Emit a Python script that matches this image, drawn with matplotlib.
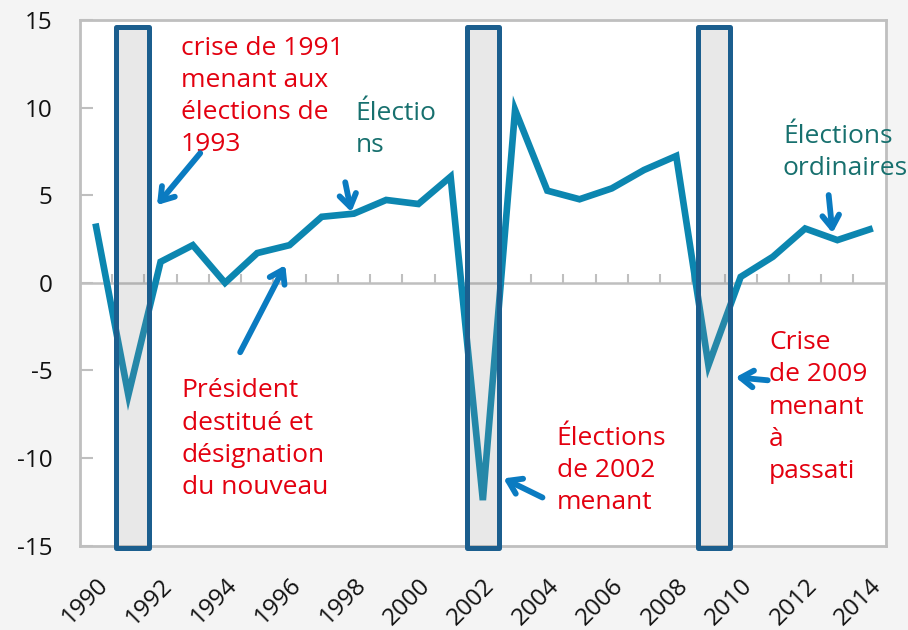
import matplotlib
matplotlib.use("Agg")
import matplotlib.pyplot as plt
from matplotlib.patches import Rectangle

plt.rcParams['font.family'] = ['Open Sans', 'DejaVu Sans']

years = list(range(1990, 2015))
growth = [3.2, -6.4, 1.2, 2.15, 0.0, 1.7, 2.15, 3.77, 3.95, 4.73, 4.5, 6.06,
          -12.4, 9.87, 5.26, 4.77, 5.39, 6.44, 7.24, -4.7, 0.34, 1.49, 3.1, 2.44, 3.05]
tick_labels = [str(y) for y in years]
crisis_years = [1991.13, 2002.0, 2009.17]

annotations = [
    ("crise de 1991\nmenant aux\nélections de\n1993", 1992.62, 14.1, '#E3000F'),
    ("Président\ndestitué et\ndésignation\ndu nouveau", 1992.65, -5.45, '#E3000F'),
    ("Électio\nns", 1998.05, 10.4, '#17706E'),
    ("Élections\nde 2002\nmenant", 2004.29, -8.15, '#E3000F'),
    ("Crise\nde 2009\nmenant\nà\npassati", 2010.88, -2.7, '#E3000F'),
    ("Élections\nordinaires", 2011.31, 9.05, '#17706E'),
]
arrows = [
    ((1993.23, 7.4), (1991.89, 4.44)),
    ((1994.47, -3.96), (1995.87, 1.01)),
    ((1997.73, 5.74), (1997.92, 4.04)),
    ((2003.85, -12.25), (2002.64, -11.16)),
    ((2010.84, -5.56), (2009.84, -5.39)),
    ((2012.73, 5.01), (2012.85, 2.84)),
]

fig = plt.figure(figsize=(9.08, 6.30), dpi=100, facecolor='#F4F4F4')
ax = fig.add_axes([80/908, 1-545.7/630, (885.7-80)/908, (545.7-20)/630])
ax.set_facecolor('white')

ax.plot(years, growth, color='#0C86B0', lw=4.8, solid_joinstyle='miter', zorder=3)

for c in crisis_years:
    r = Rectangle((c-0.5, -15.14), 1.0, 29.74, facecolor=(0.55, 0.55, 0.55, 0.2),
                  edgecolor='#1B5E8E', lw=3.6, joinstyle='round', clip_on=False, zorder=4)
    ax.add_patch(r)

ax.axhline(0, color='#BFBFBF', lw=1.8, zorder=1)
ax.vlines([y + 0.5 for y in years[:-1]], 0, 0.5, color='#BFBFBF', lw=1.5, zorder=1)

ax.set_xlim(1989.5, 2014.5)
ax.set_ylim(-15, 15)
ax.set_yticks(range(-15, 16, 5))
ax.set_yticklabels([str(v) for v in range(-15, 16, 5)])
ax.tick_params(axis='y', direction='in', length=9, width=1.5, color='#BFBFBF',
               labelsize=17.5, pad=20, labelcolor='#111111')
ax.set_xticks(years[::2])
ax.set_xticklabels(tick_labels[::2], rotation=45, ha='right', va='top',
                   rotation_mode='anchor', fontsize=17.5, color='#111111')
ax.tick_params(axis='x', length=0, pad=20)
for s in ax.spines.values():
    s.set_color('#BFBFBF')
    s.set_linewidth(2)

for txt, x, y, col in annotations:
    ax.text(x, y, txt, color=col, fontsize=19, ha='left', va='top',
            linespacing=1.38, zorder=6)

for (xt, yt), (xh, yh) in arrows:
    ax.annotate('', xy=(xh, yh), xytext=(xt, yt),
                arrowprops=dict(arrowstyle='->,head_length=0.9,head_width=0.6',
                                color='#0A7BC1', lw=4.2, shrinkA=0, shrinkB=0),
                zorder=6, annotation_clip=False)

fig.savefig('out.png', dpi=100, facecolor=fig.get_facecolor())
